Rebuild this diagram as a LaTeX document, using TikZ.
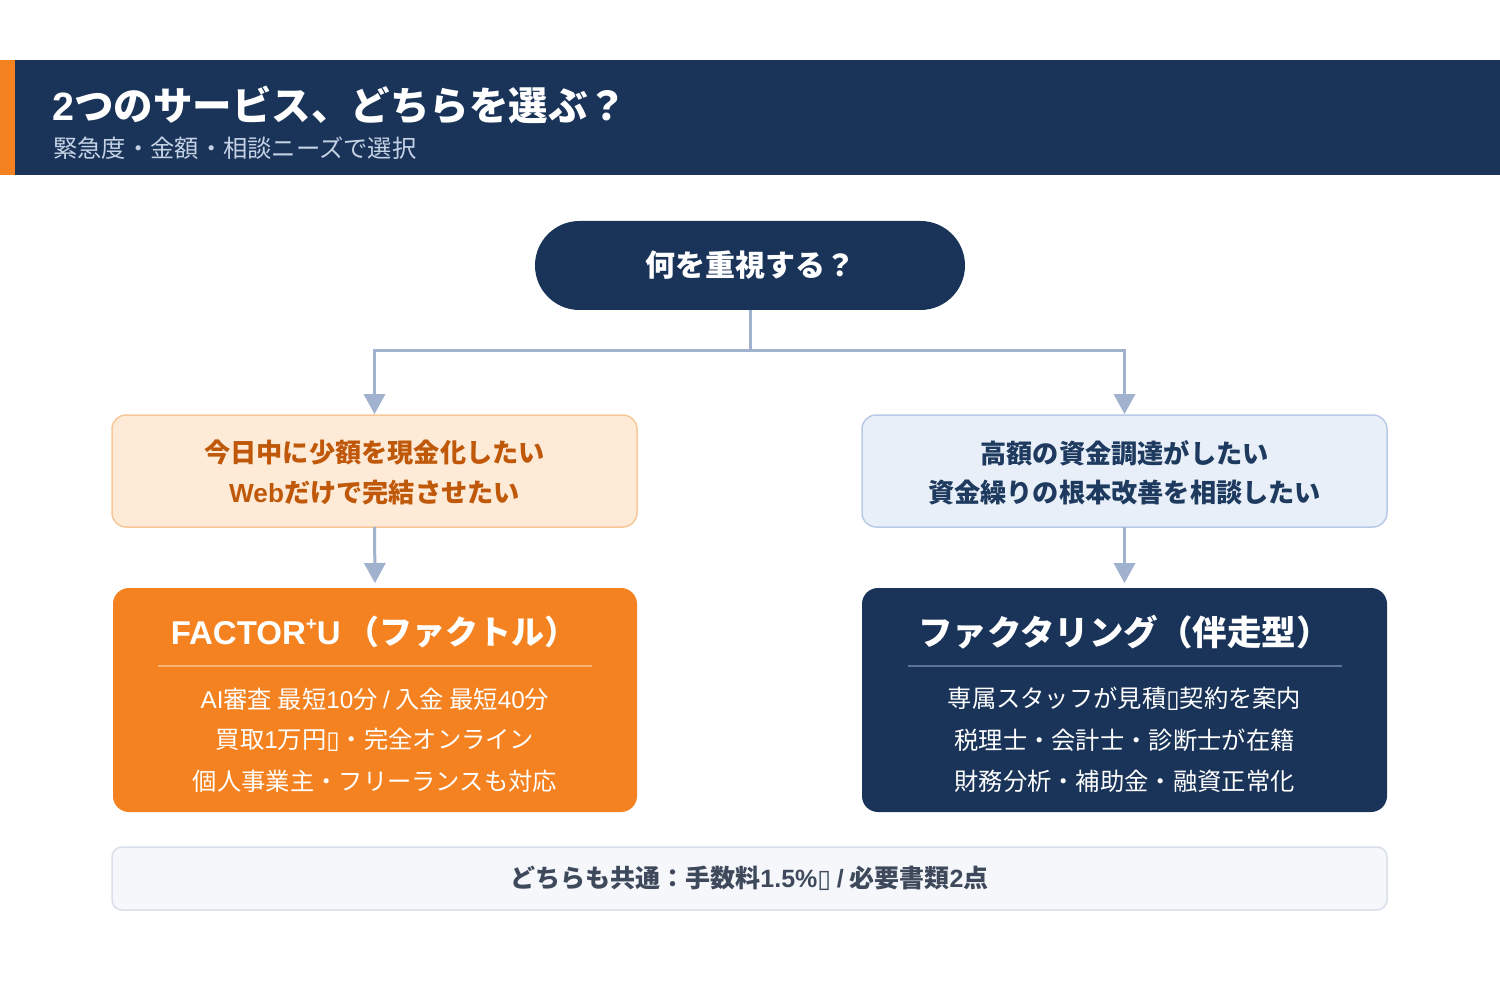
\documentclass[tikz,border=0pt]{standalone}
\usepackage{fontspec}
\setmainfont{Noto Sans CJK JP}
\newfontfamily\lat{Liberation Sans}
\newfontfamily\dv{DejaVu Sans}
\usetikzlibrary{arrows.meta}
\definecolor{navy}{HTML}{1A3459}
\definecolor{orng}{HTML}{F58220}
\definecolor{lofill}{HTML}{FDEAD7}
\definecolor{lodraw}{HTML}{F7C89A}
\definecolor{lotext}{HTML}{C0580A}
\definecolor{lbfill}{HTML}{E8EFF8}
\definecolor{lbdraw}{HTML}{B9CBE6}
\definecolor{lbtext}{HTML}{1E3A5F}
\definecolor{conn}{HTML}{A0B2CE}
\definecolor{btfill}{HTML}{F5F7FB}
\definecolor{btdraw}{HTML}{D9DFEB}
\definecolor{bttext}{HTML}{3E4A5C}
\definecolor{subt}{HTML}{C5D2E5}
\definecolor{divo}{HTML}{F9B174}
\definecolor{divn}{HTML}{5B7398}
\newcommand{\tofu}{{\dv ▯}}
\newcommand{\fs}[1]{\fontsize{#1}{#1}\selectfont}
\tikzset{
  box/.style={rectangle, inner sep=0pt, outer sep=0pt},
  arr/.style={draw=conn, line width=3pt, -{Triangle[width=22pt,length=20pt,line width=0pt]}},
  txt/.style={inner sep=0pt, align=center},
}
\begin{document}
\begin{tikzpicture}[x=1pt,y=-1pt]
\useasboundingbox (0,0) rectangle (1500,1000);
\fill[white] (0,0) rectangle (1500,1000);
% header
\fill[navy] (0,60) rectangle (1500,175);
\fill[orng] (0,60) rectangle (15,175);
\node[txt, anchor=west, text=white, font=\fs{39.5}\bfseries] (title) at (52,105) {{\lat 2}つのサービス、どちらを選ぶ？};
\node[txt, anchor=west, text=subt, font=\fs{24.3}] (subtitle) at (53,148) {緊急度・金額・相談ニーズで選択};
% question pill
\node[box, fill=navy, minimum width=430pt, minimum height=89pt, rounded corners=44.5pt] (q) at (750,265.5) {};
\node[txt, text=white, font=\fs{30}\bfseries] at (q.center) {何を重視する？};
% middle boxes
\node[box, fill=lofill, draw=lodraw, line width=1.5pt, minimum width=525pt, minimum height=112pt, rounded corners=14pt] (l1) at (374.5,471) {};
\node[txt, text=lotext, font=\fs{26.2}\bfseries] at (374.5,453) {今日中に少額を現金化したい};
\node[txt, text=lotext, font=\fs{26.2}\bfseries] at (374.5,493) {{\lat Web}だけで完結させたい};
\node[box, fill=lbfill, draw=lbdraw, line width=1.5pt, minimum width=525pt, minimum height=112pt, rounded corners=14pt] (r1) at (1124.5,471) {};
\node[txt, text=lbtext, font=\fs{26.2}\bfseries] at (1124.5,453) {高額の資金調達がしたい};
\node[txt, text=lbtext, font=\fs{26.2}\bfseries] at (1124.5,493) {資金繰りの根本改善を相談したい};
% connectors
\coordinate (j) at (750,351);
\draw[draw=conn, line width=3pt] (q.south) -- (j);
\draw[arr] (j) -| ([yshift=1pt]l1.north);
\draw[arr] (j) -| ([yshift=1pt]r1.north);
% bottom boxes
\node[box, fill=orng, minimum width=524pt, minimum height=224pt, rounded corners=16pt] (l2) at (375,700) {};
\node[box, fill=navy, minimum width=525pt, minimum height=224pt, rounded corners=16pt] (r2) at (1124.5,700) {};
\draw[arr] (l1.south) -- ([yshift=5pt]l2.north);
\draw[arr] (r1.south) -- ([yshift=5pt]r2.north);
\node[txt, text=white, font=\fs{33}\bfseries] at (374,632) {{\lat FACTOR\raisebox{0.42em}{\fs{19}+}U}\,（ファクトル）};
\draw[divo, line width=1.5pt] (158,666) -- (592,666);
\node[txt, text=white, font=\fs{24.3}] at (375,699) {{\lat AI}審査 最短{\lat 10}分 {\lat /} 入金 最短{\lat 40}分};
\node[txt, text=white, font=\fs{24.3}] at (375,740) {買取{\lat 1}万円\tofu・完全オンライン};
\node[txt, text=white, font=\fs{24.3}] at (375,781) {個人事業主・フリーランスも対応};
\node[txt, text=white, font=\fs{34.5}\bfseries] at (1124.5,632) {ファクタリング（伴走型）};
\draw[divn, line width=1.5pt] (908,666) -- (1342,666);
\node[txt, text=white, font=\fs{24.3}] at (1124.5,699) {専属スタッフが見積\tofu 契約を案内};
\node[txt, text=white, font=\fs{24.3}] at (1124.5,740) {税理士・会計士・診断士が在籍};
\node[txt, text=white, font=\fs{24.3}] at (1124.5,781) {財務分析・補助金・融資正常化};
% common strip
\node[box, fill=btfill, draw=btdraw, line width=1.5pt, minimum width=1275pt, minimum height=63pt, rounded corners=10pt] (c) at (749.5,878.5) {};
\node[txt, text=bttext, font=\fs{25}\bfseries] at (c.center) {どちらも共通：手数料{\lat 1.5\%}\tofu{} {\lat /} 必要書類{\lat 2}点};
\end{tikzpicture}
\end{document}
